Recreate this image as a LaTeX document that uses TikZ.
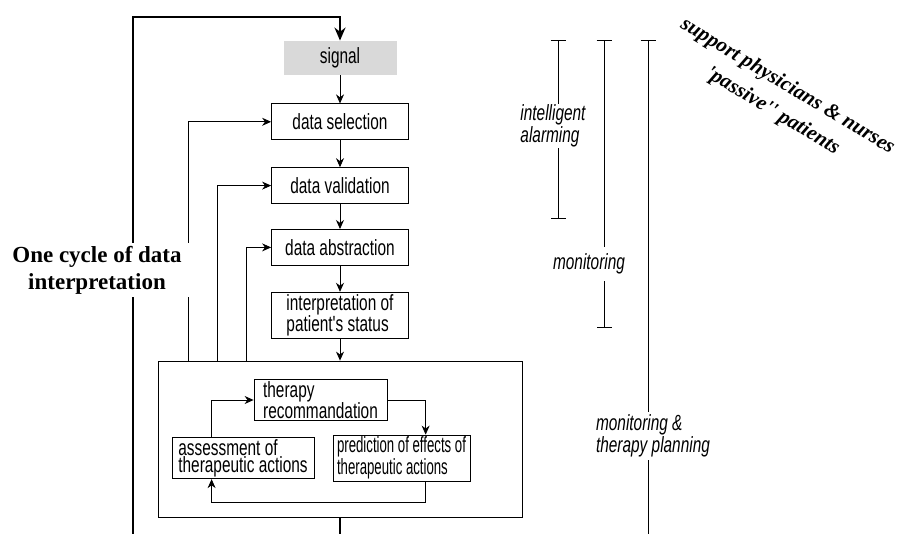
\documentclass[tikz,border=0pt]{standalone}
\usepackage{fontspec}
\setmainfont{Liberation Serif}
\newfontfamily\narrowfont[FakeStretch=0.7]{Liberation Sans}
\newfontfamily\tightfont[FakeStretch=0.6]{Liberation Sans}
\usetikzlibrary{arrows.meta, positioning}

\begin{document}
\begin{tikzpicture}[
    x=1pt, y=-1pt,
    node distance=26pt,
    box/.style={rectangle, draw, line width=0.8pt, minimum width=137pt, minimum height=36pt, inner sep=2pt, align=left, font=\narrowfont\fontsize{22}{18}\selectfont},
    sigbox/.style={box, draw=none, fill=black!15, minimum width=113pt, minimum height=34pt},
    inbox/.style={box, minimum height=40pt, inner xsep=4pt, font=\narrowfont\fontsize{22}{17}\selectfont},
    arrow/.style={-{Stealth[length=9pt,width=8pt]}, line width=0.8pt},
    loopline/.style={line width=2.4pt},
    span/.style={line width=0.8pt},
    tag/.style={inner sep=1pt, align=left, font=\narrowfont\itshape\fontsize{22}{18}\selectfont}
]
\useasboundingbox (0,0) rectangle (901,534);

% Main column
\node[sigbox] (signal) at (340,58) {signal};
\node[box, below=28pt of signal] (select) {data selection};
\node[box, below=27pt of select] (valid) {data validation};
\node[box, below=25pt of valid] (abstr) {data abstraction};
\node[box, below=26pt of abstr, minimum height=45pt] (interp) {interpretation of\\patient's status};

\node[draw, line width=0.8pt, minimum width=364pt, minimum height=156pt] (outer) at (340,439) {};

% Therapy planning
\node[inbox, minimum width=133pt] (therapy) at (320.5,400) {therapy\\recommandation};
\node[inbox, minimum width=142pt] (assess) at (243,458) {assessment of\\therapeutic actions};
\node[inbox, minimum width=135pt, font=\tightfont\fontsize{22}{17}\selectfont] (predict) at (401.5,458) {prediction of effects of\\therapeutic actions};

% Arrows
\draw[arrow] (signal) -- (select);
\draw[arrow] (select) -- (valid);
\draw[arrow] (valid) -- (abstr);
\draw[arrow] (abstr) -- (interp);
\draw[arrow] (interp) -- (outer);

\draw[arrow] ([xshift=31pt]outer.north west) |- (select.west);
\draw[arrow] ([xshift=60pt]outer.north west) |- (valid.west);
\draw[arrow] ([xshift=89pt]outer.north west) |- (abstr.west);

\draw[arrow] ([xshift=40pt]assess.north west) |- (therapy.west);
\draw[arrow] (therapy.east) -| ([xshift=93pt]predict.north west);
\draw[arrow] ([xshift=93pt]predict.south west) -- ++(0,21) -| ([xshift=40pt]assess.south west);

% Cycle loop
\coordinate (loopbot) at (133,534);
\coordinate (looptop) at (133,17);
\coordinate (exit) at (340,534);
\draw[loopline, -{Stealth[length=13pt,width=11pt]}] (loopbot) -- (looptop) -| (signal.north);
\draw[loopline] (outer.south) -- (exit);

\node[fill=white, inner xsep=7pt, inner ysep=3pt, align=center, font=\bfseries\fontsize{23}{27}\selectfont] (cycle) at (97,270) {One cycle of data\\interpretation};

% Scope bars
\coordinate (alarmtop) at (558,40);
\coordinate (alarmbot) at (558,219);
\node[tag] (alarm) at (553,126) {intelligent\\alarming};
\draw[span, {Bar[width=15pt]}-] (alarmtop) -- (alarmtop |- alarm.north);
\draw[span, -{Bar[width=15pt]}] (alarmtop |- alarm.south) -- (alarmbot);

\coordinate (monitop) at (604,40);
\coordinate (monibot) at (604,328);
\node[tag, inner ysep=7pt] (moni) at (589,264) {monitoring};
\draw[span, {Bar[width=15pt]}-] (monitop) -- (monitop |- moni.north);
\draw[span, -{Bar[width=15pt]}] (monitop |- moni.south) -- (monibot);

\coordinate (plantop) at (648,40);
\coordinate (planbot) at (648,534);
\node[tag, inner ysep=3pt] (plan) at (653,436) {monitoring \&\\therapy planning};
\draw[span, {Bar[width=15pt]}-] (plantop) -- (plantop |- plan.north);
\draw[span] (plantop |- plan.south) -- (planbot);

\node[rotate=-31, align=center, font=\bfseries\itshape\fontsize{21}{29}\selectfont] (role) at (780,99) {support physicians \& nurses\\\textquotesingle passive\textquotesingle\textquotesingle\ patients};

\end{tikzpicture}
\end{document}
